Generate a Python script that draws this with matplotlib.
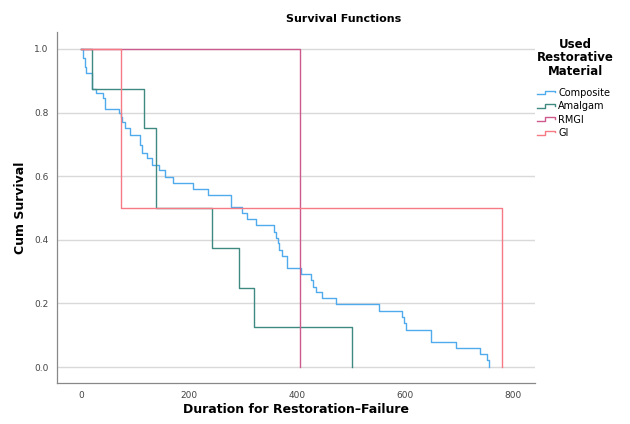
import matplotlib.pyplot as plt
from matplotlib.legend_handler import HandlerBase
from matplotlib.lines import Line2D

# Kaplan-Meier steps: (time, cumulative survival)
composite_t = [0, 4, 7, 10.5, 20, 28, 41, 45, 71, 73.5, 77, 81.5, 91, 109, 114,
               123, 131, 145, 155, 171, 208, 235, 277, 299, 307, 325, 357, 362,
               365, 367, 372, 381, 407, 425, 429, 435, 446, 473, 552, 594, 598,
               602, 648, 694, 738, 752, 756]
composite_s = [1.0, 0.971, 0.944, 0.923, 0.873, 0.86, 0.845, 0.81, 0.80, 0.787,
               0.771, 0.75, 0.73, 0.698, 0.672, 0.656, 0.635, 0.62, 0.598, 0.578,
               0.559, 0.541, 0.504, 0.485, 0.464, 0.446, 0.426, 0.405, 0.389,
               0.368, 0.349, 0.310, 0.292, 0.274, 0.253, 0.237, 0.216, 0.197,
               0.177, 0.156, 0.139, 0.118, 0.080, 0.061, 0.041, 0.022, 0.0]

amalgam_t = [0, 20, 117, 140, 242, 293, 321, 502]
amalgam_s = [1.0, 0.875, 0.75, 0.5, 0.375, 0.25, 0.125, 0.0]

rmgi_t = [0, 405]
rmgi_s = [1.0, 0.0]

gi_t = [0, 74, 779]
gi_s = [1.0, 0.5, 0.0]

groups = ["Composite", "Amalgam", "RMGI", "GI"]
colors = ["#4fabec", "#3f8a80", "#cc5a8c", "#f57a84"]
series = [(composite_t, composite_s), (amalgam_t, amalgam_s),
          (rmgi_t, rmgi_s), (gi_t, gi_s)]


class StepHandler(HandlerBase):
    def create_artists(self, legend, orig_handle, xdescent, ydescent,
                       width, height, fontsize, trans):
        w, h = width, height
        xs = [0, 0.45 * w, 0.45 * w, 0.95 * w, 0.95 * w]
        ys = [0.25 * h, 0.25 * h, 0.8 * h, 0.8 * h, 0.55 * h]
        line = Line2D([x - xdescent for x in xs], [y - ydescent for y in ys],
                      color=orig_handle.get_color(), lw=1.0, transform=trans)
        return [line]


fig = plt.figure(figsize=(6.3, 4.24), dpi=100)
ax = fig.add_axes([0.0905, 0.0967, 0.7585, 0.8278])

handles = []
for name, color, (t, s) in zip(groups, colors, series):
    ln, = ax.step(t, s, where="post", color=color, lw=1.0, label=name)
    handles.append(ln)

ax.set_xlim(-44, 840)
ax.set_ylim(-0.05, 1.053)
ax.set_xticks([0, 200, 400, 600, 800])
ax.set_yticks([0.0, 0.2, 0.4, 0.6, 0.8, 1.0])
ax.set_yticklabels(["0.0", "0.2", "0.4", "0.6", "0.8", "1.0"])
ax.tick_params(length=0, labelsize=6.5, labelcolor="#444444", pad=6)
ax.yaxis.grid(True, color="#d9d9d9", lw=1.0)
ax.set_axisbelow(True)
for side in ["top", "right"]:
    ax.spines[side].set_visible(False)
for side in ["left", "bottom"]:
    ax.spines[side].set_color("#888888")
    ax.spines[side].set_linewidth(0.9)

ax.set_xlabel("Duration for Restoration\u2013Failure", fontsize=9, fontweight="bold", labelpad=2)
ax.set_ylabel("Cum Survival", fontsize=9, fontweight="bold", labelpad=5)
fig.text(0.545, 0.955, "Survival Functions", ha="center", va="center",
         fontsize=8, fontweight="bold")

leg = fig.legend(handles=handles, labels=groups, handler_map={Line2D: StepHandler()},
                 title="Used\nRestorative\nMaterial", loc="upper left",
                 bbox_to_anchor=(0.838, 0.932), frameon=False, fontsize=7,
                 handlelength=2.0, handletextpad=0.2, labelspacing=0.35)
leg.get_title().set_fontweight("bold")
leg.get_title().set_fontsize(8.5)
leg.get_title().set_multialignment("center")
leg.get_title().set_linespacing(1.05)
leg._legend_box.align = "left"
leg._legend_box.sep = 7.5

fig.savefig("out.png", dpi=100)
